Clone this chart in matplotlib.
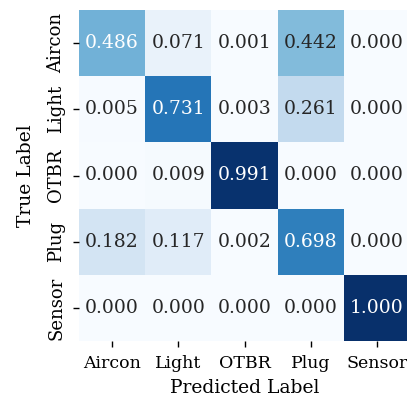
import numpy as np
import matplotlib
matplotlib.use('Agg')
import matplotlib.pyplot as plt
import seaborn as sns

# --- Data ---
classes = ['Aircon', 'Light', 'OTBR', 'Plug', 'Sensor']
row_aircon = [0.486, 0.071, 0.001, 0.442, 0.000]
row_light = [0.005, 0.731, 0.003, 0.261, 0.000]
row_otbr = [0.000, 0.009, 0.991, 0.000, 0.000]
row_plug = [0.182, 0.117, 0.002, 0.698, 0.000]
row_sensor = [0.000, 0.000, 0.000, 0.000, 1.000]

cm = np.array([row_aircon, row_light, row_otbr, row_plug, row_sensor])

plt.rcParams['font.family'] = ['DejaVu Serif']
plt.rcParams['font.size'] = 13.5

fig = plt.figure(figsize=(4.07, 4.0), dpi=100)
ax = fig.add_axes([79 / 407, 59 / 400, 331 / 407, 331 / 400])

sns.heatmap(cm, annot=True, fmt='.3f', cmap='Blues', vmin=0, vmax=1,
            cbar=False, square=False, ax=ax,
            xticklabels=classes, yticklabels=classes,
            annot_kws={'fontsize': 13.5})

ax.set_xlabel('Predicted Label', fontsize=13.5, labelpad=5)
ax.set_ylabel('True Label', fontsize=13.5, labelpad=9)
ax.tick_params(axis='both', length=4, width=1, labelsize=13)
ax.tick_params(axis='x', pad=6, labelsize=12.5)
ax.tick_params(axis='y', pad=6)
plt.setp(ax.get_yticklabels(), rotation=90, va='center')
plt.setp(ax.get_xticklabels(), rotation=0)

fig.savefig('out.png', dpi=100)
